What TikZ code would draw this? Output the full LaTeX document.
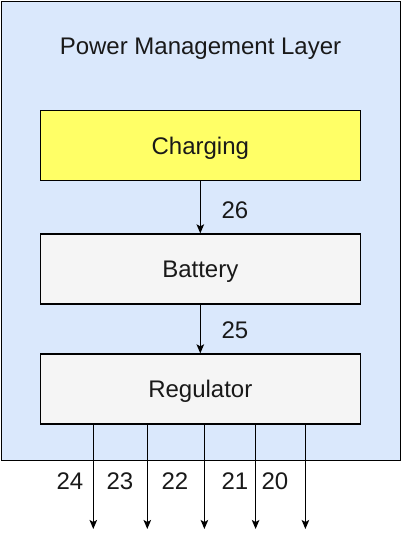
\documentclass[tikz,border=0pt]{standalone}
\usepackage{fontspec}
\setmainfont{Liberation Sans}
\usetikzlibrary{arrows.meta}
\definecolor{layerblue}{HTML}{DAE8FC}
\definecolor{chargeyellow}{HTML}{FFFF66}
\definecolor{boxgray}{HTML}{F5F5F5}
\begin{document}
\begin{tikzpicture}[x=1pt,y=-1pt,
  txt/.style={font=\fontsize{24}{28}\selectfont, text=black!90, text height=17.4pt, text depth=0pt},
  box/.style={draw=black, line width=1.3pt, minimum width=320pt, minimum height=70pt, inner sep=0pt, txt},
  lbl/.style={inner sep=0pt, txt},
  arr/.style={-{Stealth[length=9pt,width=7.5pt,inset=2pt]}, line width=1.3pt}]
\useasboundingbox (0,0) rectangle (401,539);
\node[draw=black, fill=layerblue, line width=1.3pt, minimum width=399pt, minimum height=459pt, anchor=north west, inner sep=0pt] (layer) at (0.65,0.65) {};
\node[lbl] (title) at (200.5,45.8) {Power Management Layer};
\node[box, fill=chargeyellow] (charging) at (200.3,145.3) {Charging};
\node[box, fill=boxgray] (battery) at (200.3,269) {Battery};
\node[box, fill=boxgray] (regulator) at (200.3,389) {Regulator};
\draw[arr] (charging) -- (battery);
\draw[arr] (battery) -- (regulator);
\node[lbl] (l26) at (235,210) {26};
\node[lbl] (l25) at (235,330) {25};
\coordinate (o1) at (93.3,529);
\coordinate (o2) at (147.3,529);
\coordinate (o3) at (204.4,529);
\coordinate (o4) at (255.6,529);
\coordinate (o5) at (305.4,529);
\foreach \i in {1,...,5} {\draw[arr] (regulator.south -| o\i) -- (o\i);}
\node[lbl] (l24) at (70,480.5) {24};
\node[lbl] (l23) at (120,480.5) {23};
\node[lbl] (l22) at (175,480.5) {22};
\node[lbl] (l21) at (235,480.5) {21};
\node[lbl] (l20) at (275,480.5) {20};
\end{tikzpicture}
\end{document}
